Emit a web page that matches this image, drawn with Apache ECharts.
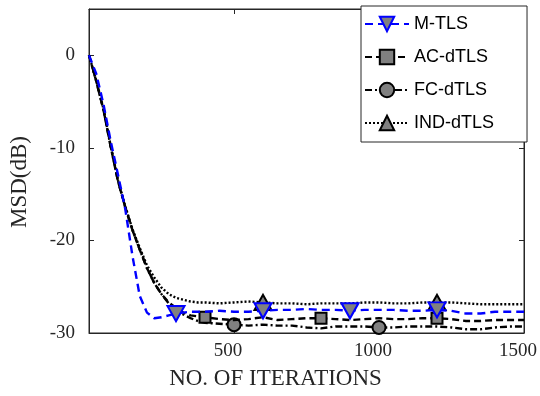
<!DOCTYPE html>
<html>
<head>
<meta charset="utf-8">
<script src="https://cdn.jsdelivr.net/npm/echarts@6/dist/echarts.min.js"></script>
<style>
  html, body { margin: 0; padding: 0; background: #fff; }
  #echarts_main { width: 540px; height: 396px; }
</style>
</head>
<body>
<div id="echarts_main"></div>
<script>
// iterations shared by all curves
const iters = [0, 25, 50, 75, 100, 125, 150, 175, 200, 225, 250, 275, 300, 325, 350, 375, 400,
    450, 500, 550, 600, 650, 700, 750, 800, 850, 900, 950, 1000, 1050, 1100, 1150, 1200,
    1250, 1300, 1350, 1400, 1450, 1500]

const mtls = [0, -2.0, -5.3, -9.3, -12.9, -16.6, -21.7, -26.0, -27.8, -28.4, -28.3, -28.1, -27.9, -27.8, -27.7, -27.7, -27.7,
    -27.6, -27.7, -27.7, -27.6, -27.5, -27.5, -27.4, -27.5, -27.5, -27.6, -27.5, -27.5, -27.5, -27.6, -27.6, -27.5,
    -27.6, -27.9, -27.9, -27.7, -27.7, -27.7]
const acdtls = [0, -2.8, -5.9, -9.9, -13.6, -16.4, -18.9, -21.0, -23.0, -24.6, -25.8, -26.7, -27.3, -27.8, -28.1, -28.2, -28.3,
    -28.5, -28.6, -28.5, -28.3, -28.6, -28.5, -28.4, -28.4, -28.5, -28.6, -28.5, -28.4, -28.5, -28.5, -28.4, -28.4,
    -28.5, -28.7, -28.7, -28.6, -28.6, -28.6]
const fcdtls = [0, -2.8, -5.9, -9.9, -13.6, -16.4, -18.9, -21.0, -23.0, -24.6, -25.8, -26.8, -27.5, -28.0, -28.4, -28.7, -28.9,
    -29.0, -29.1, -29.2, -29.1, -29.2, -29.2, -29.4, -29.5, -29.3, -29.3, -29.3, -29.4, -29.4, -29.3, -29.3, -29.3,
    -29.4, -29.6, -29.6, -29.4, -29.3, -29.3]
const inddtls = [0, -2.7, -5.8, -9.8, -13.5, -16.3, -18.8, -20.8, -22.7, -24.0, -25.1, -25.8, -26.2, -26.4, -26.6, -26.7, -26.7,
    -26.8, -26.7, -26.6, -26.7, -26.8, -26.8, -26.9, -26.8, -26.8, -26.8, -26.7, -26.7, -26.8, -26.8, -26.7, -26.7,
    -26.7, -26.8, -26.9, -26.9, -26.9, -26.9]

// iterations where each curve shows its marker
const mtlsMarks = [300, 600, 900, 1200]
const acMarks = [400, 800, 1200]
const fcMarks = [500, 1000]
const indMarks = [600, 1200]

const xTicks = [0, 500, 1000, 1500]
const yTicks = [-30, -20, -10, 0]

function build(values, marks) {
    return iters.map((x, i) => marks.includes(x) ? [x, values[i]] : { value: [x, values[i]], symbol: 'none' })
}

const axisColor = '#262626'
const serif = "'Liberation Serif', 'DejaVu Serif', serif"

const chart = echarts.init(document.getElementById('echarts_main'))

const baseX = {
    type: 'value', min: 0, max: 1500, interval: 500,
    axisLine: { show: true, onZero: false, lineStyle: { color: axisColor } },
    axisTick: { show: true, inside: true, length: 5, lineStyle: { color: axisColor } },
    splitLine: { show: false }
}
const baseY = {
    type: 'value', min: -30, max: 5, interval: 10,
    axisLine: { show: true, onZero: false, lineStyle: { color: axisColor } },
    axisTick: { show: true, inside: true, length: 5, lineStyle: { color: axisColor } },
    splitLine: { show: false }
}

const option = {
    animation: false,
    textStyle: { fontFamily: serif },
    grid: { left: 86, right: 16, top: 9, bottom: 63, show: true, borderColor: axisColor, borderWidth: 1 },
    xAxis: [
        Object.assign({}, baseX, {
            position: 'bottom',
            name: 'NO. OF ITERATIONS', nameLocation: 'middle', nameGap: 34,
            nameTextStyle: { fontFamily: serif, fontSize: 23, color: axisColor, padding: [0, 62, 0, 0] },
            axisLabel: {
                fontFamily: serif, fontSize: 19, color: axisColor, margin: 9, padding: [0, 12, 0, 0],
                formatter: v => xTicks.includes(v) && v !== 0 ? String(v) : ''
            }
        }),
        Object.assign({}, baseX, { position: 'top', axisLabel: { show: false } })
    ],
    yAxis: [
        Object.assign({}, baseY, {
            position: 'left',
            name: 'MSD(dB)', nameLocation: 'middle', nameGap: 58, nameRotate: 90,
            nameTextStyle: { fontFamily: serif, fontSize: 23, color: axisColor, padding: [0, 22, 0, 0] },
            axisLabel: {
                fontFamily: serif, fontSize: 19, color: axisColor, margin: 14, padding: [0, 0, 9, 0],
                formatter: v => yTicks.includes(v) ? String(v) : ''
            }
        }),
        Object.assign({}, baseY, { position: 'right', axisLabel: { show: false } })
    ],
    legend: {
        orient: 'vertical', left: 361, top: 6,
        padding: [9, 33, 10, 3],
        itemWidth: 44, itemHeight: 18, itemGap: 15,
        backgroundColor: '#fff', borderColor: axisColor, borderWidth: 1, borderRadius: 0,
        textStyle: { fontFamily: 'Liberation Sans', fontSize: 18, color: '#000' },
        data: ['M-TLS', 'AC-dTLS', 'FC-dTLS', 'IND-dTLS']
    },
    series: [
        {
            name: 'M-TLS', type: 'line', z: 5,
            symbol: 'path://M0,0L20,0L10,17Z', symbolSize: [17, 15],
            itemStyle: { color: '#808080', borderColor: '#0000ff', borderWidth: 2 },
            lineStyle: { color: '#0000ff', width: 2.4, type: [8, 5] },
            data: build(mtls, mtlsMarks)
        },
        {
            name: 'AC-dTLS', type: 'line', z: 4,
            symbol: 'rect', symbolSize: 11,
            itemStyle: { color: '#808080', borderColor: '#000', borderWidth: 2 },
            lineStyle: { color: '#000', width: 2.4, type: [7, 4] },
            data: build(acdtls, acMarks)
        },
        {
            name: 'FC-dTLS', type: 'line', z: 3,
            symbol: 'circle', symbolSize: 13,
            itemStyle: { color: '#808080', borderColor: '#000', borderWidth: 2 },
            lineStyle: { color: '#000', width: 2.4, type: [7, 3, 2, 3] },
            data: build(fcdtls, fcMarks)
        },
        {
            name: 'IND-dTLS', type: 'line', z: 2,
            symbol: 'triangle', symbolSize: [17, 15],
            itemStyle: { color: '#808080', borderColor: '#000', borderWidth: 2 },
            lineStyle: { color: '#000', width: 2.4, type: [2, 2] },
            data: build(inddtls, indMarks)
        }
    ]
}

chart.setOption(option)
</script>
</body>
</html>
